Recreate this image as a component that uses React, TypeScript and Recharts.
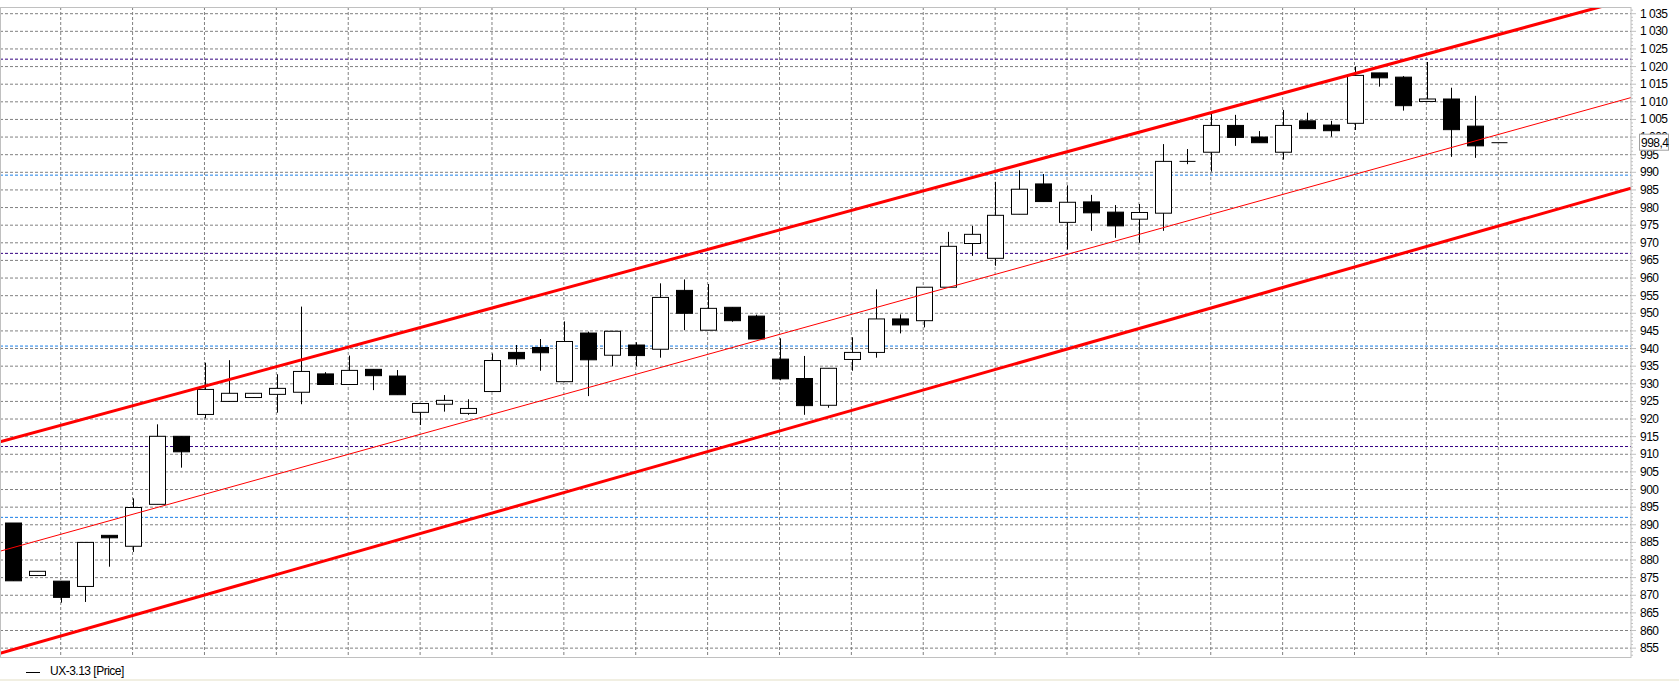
import React from "react";
import { ComposedChart, Bar, Line, XAxis, YAxis, CartesianGrid } from "recharts";

// OHLC, one entry per session
const OPEN = [
  890.5, 875.6, 874.0, 872.5, 887.0, 883.9, 895.8, 915.1, 921.3, 925.0,
  926.1, 927.0, 927.6, 932.8, 929.8, 934.1, 932.2, 921.9, 924.2, 921.6,
  927.8, 938.9, 940.3, 930.6, 944.4, 938.1, 941.0, 939.8, 956.5, 945.2,
  951.7, 949.2, 937.0, 931.5, 923.9, 936.9, 938.9, 948.4, 947.9, 957.4,
  969.8, 965.6, 978.1, 986.7, 975.8, 981.6, 978.7, 976.7, 978.4, 993.1,
  995.7, 1003.3, 1000.0, 995.7, 1004.6, 1003.4, 1003.9, 1018.2, 1017.0, 1010.1,
  1010.8, 1003.1, 998.4,
];
const HIGH = [
  890.5, 876.8, 874.0, 885.0, 887.0, 897.5, 918.5, 915.1, 936.0, 936.7,
  927.3, 932.7, 951.9, 933.3, 938.0, 934.1, 933.9, 924.4, 926.8, 925.6,
  938.6, 941.0, 942.7, 947.7, 944.8, 944.9, 941.8, 958.5, 959.6, 958.3,
  951.7, 949.6, 942.9, 937.9, 934.4, 943.2, 956.8, 949.7, 957.4, 973.1,
  974.8, 987.3, 990.6, 989.5, 986.3, 983.6, 980.7, 981.0, 998.0, 996.6,
  1006.9, 1006.3, 1001.7, 1007.7, 1006.9, 1004.6, 1020.0, 1018.2, 1017.3, 1021.3,
  1014.0, 1011.7, 998.4,
];
const LOW = [
  874.1, 875.6, 867.9, 868.1, 878.1, 882.3, 895.8, 906.2, 920.2, 925.0,
  926.1, 921.8, 924.2, 929.8, 929.8, 928.2, 926.9, 918.3, 922.1, 921.2,
  927.8, 935.3, 933.7, 930.6, 926.5, 935.0, 935.0, 937.4, 945.2, 945.2,
  947.6, 942.7, 931.0, 921.2, 923.2, 933.7, 937.4, 944.3, 946.0, 957.4,
  966.3, 963.5, 978.1, 981.7, 968.1, 973.4, 971.4, 970.0, 973.4, 992.3,
  990.2, 997.5, 998.4, 993.6, 1002.4, 1000.1, 1002.0, 1014.3, 1007.5, 1010.1,
  994.4, 994.1, 998.4,
];
const CLOSE = [
  874.1, 876.8, 869.4, 885.0, 886.3, 894.9, 915.1, 910.7, 928.4, 927.3,
  927.3, 928.7, 933.5, 929.8, 933.8, 932.3, 926.9, 924.4, 925.3, 923.0,
  936.6, 937.1, 938.8, 942.0, 936.8, 944.9, 938.0, 954.5, 950.0, 951.4,
  947.9, 942.7, 931.4, 923.8, 934.4, 938.9, 948.4, 946.7, 957.4, 969.0,
  972.4, 977.8, 985.2, 981.7, 981.5, 978.5, 974.8, 978.6, 993.1, 993.1,
  1003.3, 999.9, 998.4, 1003.3, 1002.4, 1001.8, 1017.5, 1016.8, 1008.9, 1010.8,
  1002.1, 997.5, 998.4,
];

// channel lines (value at left and right edge of the plot)
const UPPER = [913.55, 1039.3];
const MIDDLE = [882.5, 1011.2];
const LOWER = [853.5, 985.5];

// horizontal level lines
const PURPLE_LEVELS = [1022.1, 967.0, 912.2];
const BLUE_LEVELS = [989.2, 940.7, 892.1];

const LAST_PRICE = 998.4;
const X_DOMAIN = [-0.534, 67.54];
const Y_DOMAIN = [852.2, 1036.9];

const MAJOR_TICKS = Array.from({ length: 37 }, (_, k) => 855 + k * 5);
// every unit gets a small tick; last price goes last so its tag sits on top
const ALL_TICKS = [...Array.from({ length: 184 }, (_, k) => 853 + k), LAST_PRICE];
const V_GRID = Array.from({ length: 21 }, (_, k) => 2 + k * 3);

const data = OPEN.map((o, i) => ({ i, open: o, high: HIGH[i], low: LOW[i], close: CLOSE[i] }));
const lineData = (vals: number[]) => [
  { i: X_DOMAIN[0], v: vals[0] },
  { i: X_DOMAIN[1], v: vals[1] },
];

const fmt = (v: number) => {
  const s = String(v);
  return s.length > 3 ? s.slice(0, s.length - 3) + " " + s.slice(-3) : s;
};

const FONT = "'Liberation Sans', Arial, sans-serif";

function Candle(props: any) {
  const { x, y, width, height, payload } = props;
  const { open, high, low, close } = payload;
  const cx = Math.round(x + width / 2) + 0.5;
  const top = Math.min(y, y + height);
  const bot = Math.max(y, y + height);
  const half = 8;
  if (high === low) {
    return <line x1={cx - half} x2={cx + half} y1={top} y2={top} stroke="#000" />;
  }
  const k = (bot - top) / (high - low);
  const yOf = (v: number) => top + (high - v) * k;
  const yo = yOf(open);
  const yc = yOf(close);
  const bTop = Math.min(yo, yc);
  const bBot = Math.max(yo, yc);
  const bear = close < open;
  return (
    <g>
      <line x1={cx} x2={cx} y1={top} y2={bot} stroke="#000" strokeWidth={1} />
      {bBot - bTop < 0.5 ? (
        <line x1={cx - half} x2={cx + half} y1={bTop} y2={bTop} stroke="#000" />
      ) : (
        <rect x={cx - half} y={bTop} width={half * 2} height={bBot - bTop}
          fill={bear ? "#000" : "#fff"} stroke="#000" strokeWidth={1} />
      )}
    </g>
  );
}

function AxisTick(props: any) {
  const { x, y, payload } = props;
  const v = payload.value;
  if (v === LAST_PRICE) {
    return (
      <g>
        <rect x={x + 8.5} y={y - 8.5} width={29} height={16} fill="#fff" stroke="#a0a0a0" />
        <text x={x + 10} y={y} dominantBaseline="central" fontSize={12} letterSpacing={-0.5}
          fontFamily={FONT} fill="#000">{String(LAST_PRICE).replace(".", ",")}</text>
      </g>
    );
  }
  const major = v % 5 === 0;
  return (
    <g>
      <line x1={x} x2={x + (major ? 5 : 2)} y1={y} y2={y} stroke="#c0c0c0" />
      {major && (
        <text x={x + 9} y={y} dominantBaseline="central" fontSize={12} letterSpacing={-0.5}
          fontFamily={FONT} fill="#000">{fmt(v)}</text>
      )}
    </g>
  );
}

export default function App() {
  return (
    <div style={{ position: "absolute", left: 0, top: 0, width: 1679, height: 681, background: "#fff", overflow: "hidden" }}>
      <ComposedChart width={1679} height={681} data={data} margin={{ top: 7, right: 0, left: 0, bottom: 23 }}>
        <CartesianGrid horizontalValues={MAJOR_TICKS} verticalValues={V_GRID} stroke="#808080" strokeDasharray="3 2" />
        <CartesianGrid horizontalValues={PURPLE_LEVELS} vertical={false} stroke="#330080" strokeDasharray="3 2" />
        <CartesianGrid horizontalValues={BLUE_LEVELS} vertical={false} stroke="#1a7fe8" strokeDasharray="3 2" />
        <XAxis type="number" dataKey="i" domain={X_DOMAIN} allowDataOverflow hide />
        <YAxis orientation="right" domain={Y_DOMAIN} allowDataOverflow ticks={ALL_TICKS} interval={0}
          width={48} tickSize={0} tickMargin={0} tickLine={false} axisLine={{ stroke: "#c0c0c0" }} tick={<AxisTick />} />
        <Bar dataKey={(d: any) => [d.low, d.high]} barSize={16} shape={<Candle />} isAnimationActive={false} />
        <Line data={lineData(UPPER)} dataKey="v" stroke="#ff0000" strokeWidth={3} dot={false} isAnimationActive={false} />
        <Line data={lineData(MIDDLE)} dataKey="v" stroke="#ff0000" strokeWidth={1} dot={false} isAnimationActive={false} />
        <Line data={lineData(LOWER)} dataKey="v" stroke="#ff0000" strokeWidth={3} dot={false} isAnimationActive={false} />
      </ComposedChart>
      <div style={{ position: "absolute", left: 0, top: 7, width: 1631, height: 651, border: "1px solid #c0c0c0", borderRight: "none", boxSizing: "border-box", pointerEvents: "none" }} />
      <div style={{ position: "absolute", left: 26, top: 672, width: 14, height: 1, background: "#000" }} />
      <div style={{ position: "absolute", left: 50, top: 664, fontFamily: FONT, fontSize: 12, letterSpacing: -0.5, color: "#000", lineHeight: "15px" }}>UX-3.13 [Price]</div>
      <div style={{ position: "absolute", left: 0, top: 679, width: 1679, height: 2, background: "#f1efe2" }} />
    </div>
  );
}
